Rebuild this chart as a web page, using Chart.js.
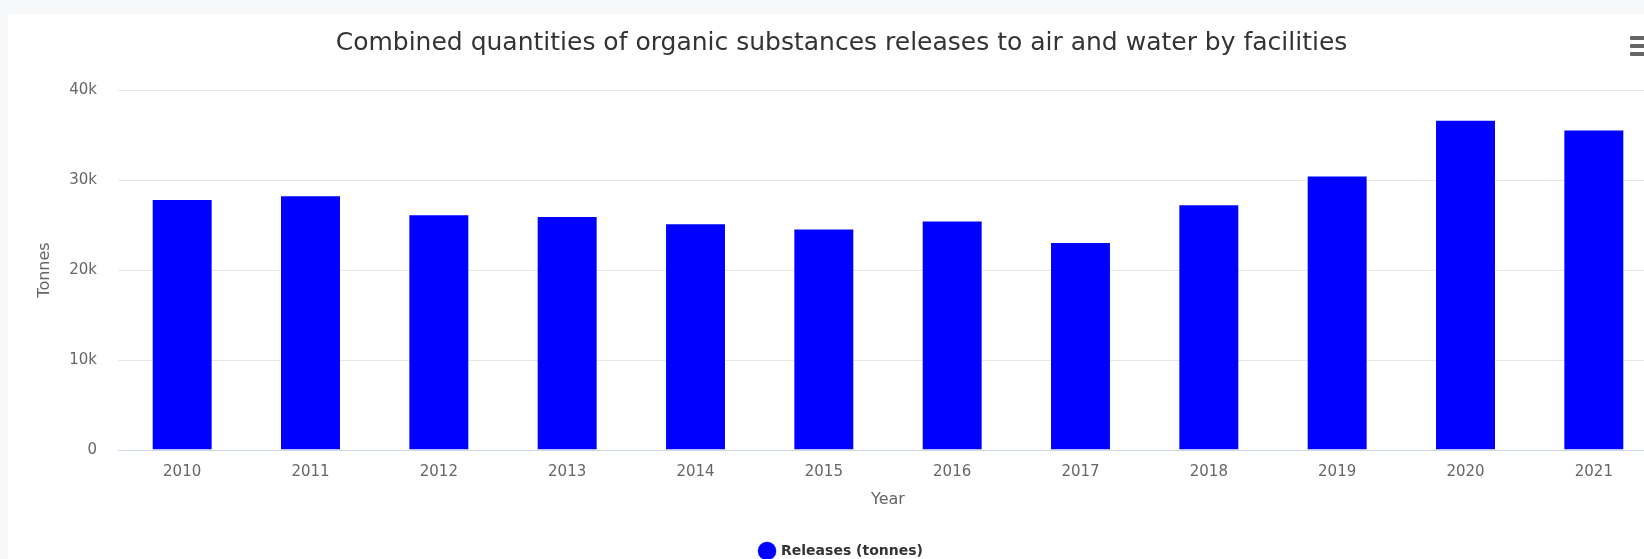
<!DOCTYPE html>
<html>
<head>
<meta charset="utf-8">
<script src="https://cdn.jsdelivr.net/npm/chart.js@4.4.1/dist/chart.umd.min.js"></script>
<style>
    html, body { margin: 0; padding: 0; overflow: hidden; background: #f7f8fa; }
    body { width: 1644px; height: 559px; position: relative; }
    #card { position: absolute; left: 8px; top: 14px; width: 1660px; height: 555px; background: #ffffff; }
    #menu { position: absolute; left: 1630px; top: 36px; width: 20px; }
    #menu div { height: 4px; background: #666666; margin-bottom: 4px; border-radius: 1px; }
</style>
</head>
<body>
<div id="card"><canvas id="barChart" width="1660" height="555"></canvas></div>
<div id="menu"><div></div><div></div><div></div></div>
<script>
// dados
var years = ['2010', '2011', '2012', '2013', '2014', '2015', '2016', '2017', '2018', '2019', '2020', '2021'];
var releases = [27900, 28300, 26200, 26000, 25200, 24600, 25500, 23100, 27300, 30500, 36700, 35600];
var yTicks = [0, 10000, 20000, 30000, 40000];
var yTickLabels = ['0', '10k', '20k', '30k', '40k'];

var fonte = 'DejaVu Sans';

var ctxB = document.getElementById('barChart').getContext('2d');
var myBarChart = new Chart(ctxB, {
    type: 'bar',
    data: {
        labels: years,
        datasets: [{
            label: 'Releases (tonnes)',
            data: releases,
            backgroundColor: '#0000ff',
            borderColor: 'rgba(255, 255, 255, 0.6)',
            borderWidth: 1,
            barPercentage: 0.475,
            categoryPercentage: 1
        }]
    },
    options: {
        responsive: false,
        animation: false,
        layout: { padding: { left: 17, right: 10, top: 0, bottom: 1 } },
        plugins: {
            title: {
                display: true,
                text: 'Combined quantities of organic substances releases to air and water by facilities',
                color: '#333333',
                font: { family: fonte, size: 25, weight: 'normal' },
                padding: { top: 14, bottom: 32 }
            },
            legend: {
                position: 'bottom',
                labels: {
                    color: '#333333',
                    font: { family: fonte, size: 14, weight: 'bold' },
                    usePointStyle: true,
                    pointStyle: 'circle',
                    boxHeight: 13.5,
                    padding: 3
                }
            },
            tooltip: { enabled: false }
        },
        scales: {
            x: {
                grid: { display: false },
                border: { display: true, color: '#ccd6eb', width: 1 },
                ticks: {
                    color: '#666666',
                    font: { family: fonte, size: 15 },
                    padding: 5,
                    maxRotation: 0
                },
                title: {
                    display: true,
                    text: 'Year',
                    color: '#666666',
                    font: { family: fonte, size: 16 },
                    padding: { top: 0, bottom: 32 }
                },
                afterFit: function(scale) { scale.height = 91; }
            },
            y: {
                min: 0,
                max: 40000,
                border: { display: false },
                grid: {
                    drawTicks: false,
                    color: function(c) { return c.tick && c.tick.value === 0 ? '#ccd6eb' : '#e6e6e6'; }
                },
                afterBuildTicks: function(scale) {
                    scale.ticks = yTicks.map(function(v) { return { value: v }; });
                },
                ticks: {
                    color: '#666666',
                    font: { family: fonte, size: 15 },
                    padding: 21,
                    callback: function(v) { return yTickLabels[yTicks.indexOf(v)]; }
                },
                title: {
                    display: true,
                    text: 'Tonnes',
                    color: '#666666',
                    font: { family: fonte, size: 16 },
                    padding: { top: 10, bottom: 0 }
                },
                afterFit: function(scale) { scale.width = 93; }
            }
        }
    }
});
</script>
</body>
</html>
